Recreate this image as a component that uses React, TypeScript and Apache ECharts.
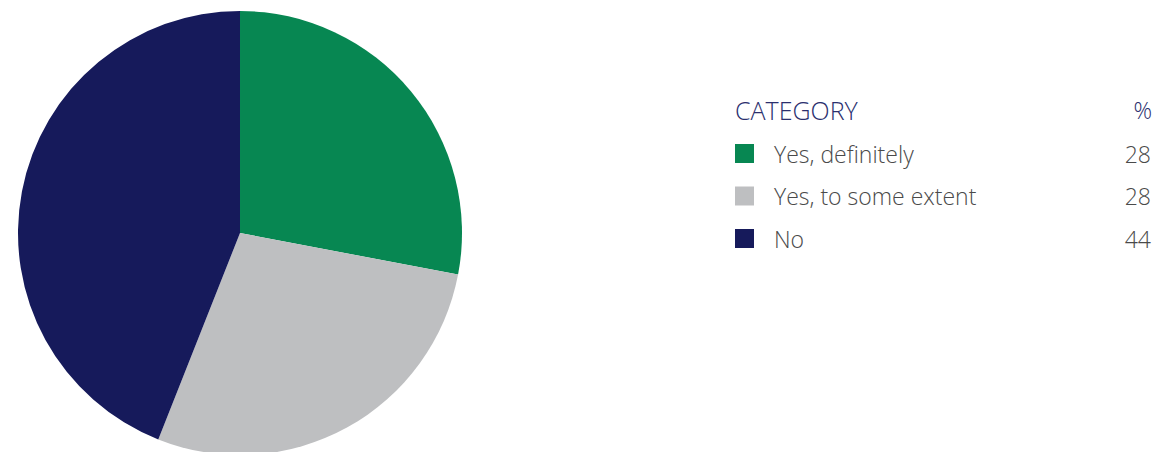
import React, { useEffect, useRef } from "react";
import * as echarts from "echarts";

const categories = ["Yes, definitely", "Yes, to some extent", "No"];
const values = [28, 28, 44];
const colors = ["#078752", "#BEBFC1", "#161A5B"];
const headerLabel = "CATEGORY";
const headerValue = "%";

export default function App() {
  const ref = useRef<HTMLDivElement>(null);
  useEffect(() => {
    document.body.style.margin = "0";
    if (!ref.current) return;
    const chart = echarts.init(ref.current, null, { renderer: "svg" });
    const font = "'Open Sans', 'Noto Sans', sans-serif";
    const rowY0 = 153.5;
    const rowStep = 42.5;
    const legendEls: any[] = [];
    categories.forEach((c, i) => {
      const y = rowY0 + i * rowStep;
      legendEls.push({
        type: "rect",
        shape: { x: 735, y: y - 9.5, width: 19, height: 19 },
        style: { fill: colors[i] },
      });
      legendEls.push({
        type: "text",
        x: 774,
        y,
        style: { text: c, font: `300 23px ${font}`, fill: "#4A4A4A", verticalAlign: "middle", align: "left" },
      });
      legendEls.push({
        type: "text",
        x: 1151,
        y,
        style: { text: String(values[i]), font: `300 23px ${font}`, fill: "#4A4A4A", verticalAlign: "middle", align: "right" },
      });
    });
    chart.setOption({
      animation: false,
      graphic: [
        {
          type: "text",
          x: 735,
          y: 110,
          style: { text: headerLabel, font: `300 25px ${font}`, fill: "#2B2F6E", verticalAlign: "middle", align: "left" },
        },
        {
          type: "text",
          x: 1152,
          y: 110,
          style: { text: headerValue, font: `300 23px ${font}`, fill: "#2B2F6E", verticalAlign: "middle", align: "right" },
        },
        ...legendEls,
      ],
      series: [
        {
          type: "pie",
          center: [240, 233],
          radius: 222,
          startAngle: 90,
          clockwise: true,
          label: { show: false },
          labelLine: { show: false },
          emphasis: { disabled: true },
          itemStyle: { borderWidth: 0 },
          data: categories.map((c, i) => ({
            name: c,
            value: values[i],
            itemStyle: { color: colors[i] },
          })),
        },
      ],
    });
    return () => chart.dispose();
  }, []);
  return <div ref={ref} style={{ width: 1157, height: 452 }} />;
}
